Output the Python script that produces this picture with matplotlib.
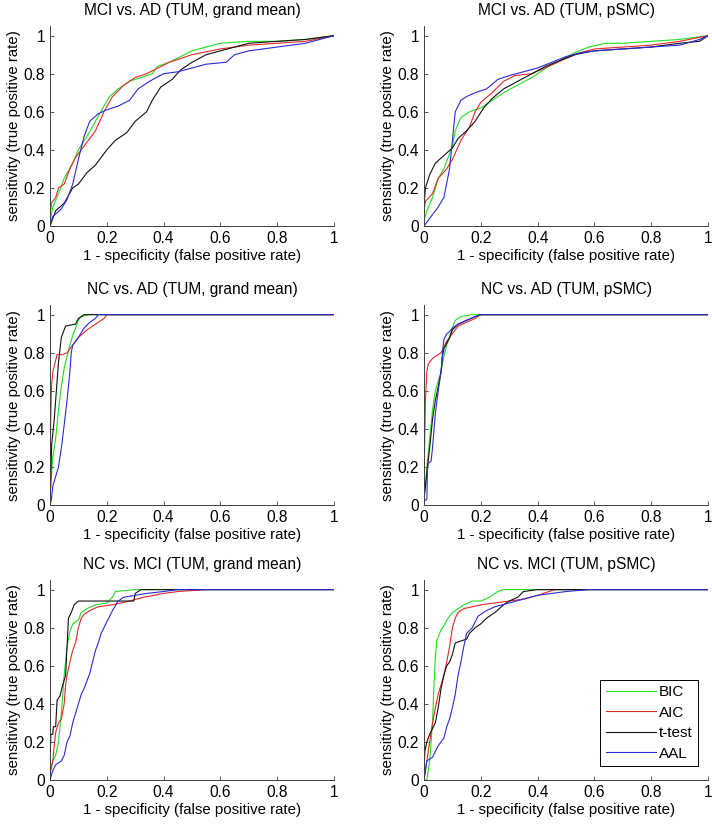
import matplotlib
matplotlib.use("Agg")
import matplotlib.pyplot as plt

plt.rcParams["font.family"] = ["Liberation Sans", "DejaVu Sans"]

# =========================
# DATA
# =========================

methods = ["BIC", "AIC", "t-test", "AAL"]
colors = ["#22dd22", "#e8262a", "#111111", "#2a2ad8"]

titles = [
    "MCI vs. AD (TUM, grand mean)",
    "MCI vs. AD (TUM, pSMC)",
    "NC vs. AD (TUM, grand mean)",
    "NC vs. AD (TUM, pSMC)",
    "NC vs. MCI (TUM, grand mean)",
    "NC vs. MCI (TUM, pSMC)",
]

# panel 1 : MCI vs. AD, grand mean
p1_bic_fpr = [0, 0.01, 0.03, 0.05, 0.08, 0.10, 0.13, 0.16, 0.19, 0.21, 0.24, 0.28, 0.32, 0.36, 0.38, 0.42, 0.46, 0.50, 0.55, 0.60, 0.70, 0.80, 0.90, 1]
p1_bic_tpr = [0.02, 0.10, 0.17, 0.25, 0.33, 0.40, 0.47, 0.55, 0.63, 0.68, 0.72, 0.76, 0.78, 0.80, 0.84, 0.86, 0.89, 0.92, 0.94, 0.96, 0.97, 0.97, 0.98, 1]
p1_aic_fpr = [0, 0.005, 0.02, 0.03, 0.05, 0.07, 0.09, 0.12, 0.16, 0.19, 0.22, 0.26, 0.30, 0.34, 0.38, 0.42, 0.50, 0.60, 0.70, 0.80, 0.90, 1]
p1_aic_tpr = [0.05, 0.12, 0.15, 0.20, 0.22, 0.30, 0.36, 0.42, 0.50, 0.60, 0.68, 0.74, 0.78, 0.80, 0.83, 0.86, 0.90, 0.93, 0.95, 0.96, 0.97, 1]
p1_tt_fpr = [0, 0.02, 0.05, 0.08, 0.10, 0.13, 0.16, 0.18, 0.20, 0.23, 0.27, 0.30, 0.34, 0.36, 0.39, 0.43, 0.46, 0.50, 0.55, 0.60, 0.70, 0.80, 0.90, 1]
p1_tt_tpr = [0, 0.08, 0.12, 0.20, 0.22, 0.28, 0.32, 0.36, 0.40, 0.45, 0.49, 0.55, 0.60, 0.66, 0.73, 0.77, 0.82, 0.86, 0.90, 0.92, 0.96, 0.97, 0.98, 1]
p1_aal_fpr = [0, 0.01, 0.04, 0.06, 0.08, 0.10, 0.12, 0.14, 0.17, 0.20, 0.24, 0.28, 0.31, 0.35, 0.40, 0.45, 0.50, 0.55, 0.62, 0.65, 0.70, 0.80, 0.90, 1]
p1_aal_tpr = [0, 0.05, 0.09, 0.14, 0.22, 0.35, 0.47, 0.55, 0.59, 0.61, 0.63, 0.66, 0.72, 0.76, 0.80, 0.81, 0.83, 0.85, 0.86, 0.90, 0.92, 0.94, 0.96, 1]

# panel 2 : MCI vs. AD, pSMC
p2_bic_fpr = [0, 0.01, 0.03, 0.05, 0.07, 0.10, 0.11, 0.13, 0.16, 0.20, 0.24, 0.28, 0.33, 0.38, 0.43, 0.48, 0.53, 0.58, 0.64, 0.70, 0.80, 0.90, 1]
p2_bic_tpr = [0.03, 0.08, 0.15, 0.25, 0.30, 0.42, 0.50, 0.57, 0.60, 0.62, 0.66, 0.70, 0.74, 0.78, 0.83, 0.87, 0.91, 0.94, 0.96, 0.96, 0.97, 0.98, 1]
p2_aic_fpr = [0, 0.005, 0.03, 0.05, 0.08, 0.10, 0.13, 0.16, 0.18, 0.20, 0.24, 0.28, 0.32, 0.38, 0.44, 0.50, 0.55, 0.60, 0.70, 0.80, 0.90, 1]
p2_aic_tpr = [0.08, 0.13, 0.17, 0.25, 0.30, 0.35, 0.45, 0.52, 0.60, 0.65, 0.70, 0.76, 0.79, 0.80, 0.84, 0.88, 0.91, 0.93, 0.94, 0.95, 0.97, 1]
p2_tt_fpr = [0, 0.005, 0.02, 0.04, 0.07, 0.10, 0.12, 0.15, 0.18, 0.21, 0.24, 0.28, 0.33, 0.38, 0.43, 0.48, 0.53, 0.60, 0.70, 0.80, 0.90, 0.97, 1]
p2_tt_tpr = [0.10, 0.20, 0.27, 0.33, 0.37, 0.41, 0.46, 0.50, 0.55, 0.62, 0.67, 0.72, 0.76, 0.80, 0.84, 0.87, 0.90, 0.92, 0.93, 0.94, 0.96, 0.97, 1]
p2_aal_fpr = [0, 0.01, 0.03, 0.05, 0.07, 0.09, 0.10, 0.11, 0.13, 0.15, 0.18, 0.22, 0.26, 0.30, 0.35, 0.40, 0.45, 0.50, 0.55, 0.60, 0.70, 0.80, 0.90, 0.97, 1]
p2_aal_tpr = [0, 0.02, 0.06, 0.10, 0.15, 0.30, 0.45, 0.60, 0.66, 0.68, 0.70, 0.72, 0.77, 0.79, 0.81, 0.83, 0.86, 0.89, 0.91, 0.92, 0.93, 0.94, 0.95, 0.98, 1]

# panel 3 : NC vs. AD, grand mean
p3_bic_fpr = [0, 0.005, 0.01, 0.02, 0.03, 0.04, 0.05, 0.06, 0.07, 0.08, 0.09, 0.10, 0.11, 0.14, 1]
p3_bic_tpr = [0, 0.15, 0.25, 0.35, 0.50, 0.62, 0.72, 0.78, 0.84, 0.89, 0.93, 0.97, 0.99, 1, 1]
p3_aic_fpr = [0, 0.002, 0.005, 0.01, 0.02, 0.025, 0.045, 0.06, 0.08, 0.10, 0.13, 0.16, 0.19, 0.20, 1]
p3_aic_tpr = [0, 0.40, 0.62, 0.70, 0.76, 0.79, 0.79, 0.80, 0.84, 0.88, 0.92, 0.95, 0.98, 1, 1]
p3_tt_fpr = [0, 0.003, 0.006, 0.015, 0.025, 0.03, 0.04, 0.05, 0.055, 0.09, 0.10, 0.12, 1]
p3_tt_tpr = [0, 0.15, 0.32, 0.45, 0.65, 0.75, 0.88, 0.92, 0.94, 0.95, 0.98, 1, 1]
p3_aal_fpr = [0, 0.005, 0.01, 0.02, 0.03, 0.04, 0.05, 0.06, 0.07, 0.075, 0.08, 0.09, 0.10, 0.12, 0.14, 0.16, 0.17, 1]
p3_aal_tpr = [0, 0.03, 0.10, 0.15, 0.20, 0.30, 0.42, 0.55, 0.70, 0.80, 0.84, 0.86, 0.88, 0.93, 0.96, 0.98, 1, 1]

# panel 4 : NC vs. AD, pSMC
p4_bic_fpr = [0, 0.005, 0.01, 0.02, 0.03, 0.04, 0.05, 0.06, 0.07, 0.08, 0.09, 0.10, 0.11, 0.13, 0.17, 1]
p4_bic_tpr = [0.05, 0.10, 0.20, 0.35, 0.50, 0.60, 0.65, 0.70, 0.78, 0.84, 0.88, 0.93, 0.97, 0.99, 1, 1]
p4_aic_fpr = [0, 0.002, 0.005, 0.01, 0.015, 0.03, 0.05, 0.06, 0.07, 0.08, 0.09, 0.10, 0.12, 0.15, 0.18, 0.20, 1]
p4_aic_tpr = [0.05, 0.30, 0.55, 0.70, 0.74, 0.77, 0.79, 0.80, 0.83, 0.86, 0.88, 0.90, 0.94, 0.96, 0.98, 1, 1]
p4_tt_fpr = [0, 0.005, 0.01, 0.02, 0.03, 0.04, 0.05, 0.06, 0.065, 0.07, 0.08, 0.09, 0.10, 0.12, 0.15, 0.18, 0.20, 1]
p4_tt_tpr = [0.03, 0.10, 0.17, 0.30, 0.45, 0.55, 0.62, 0.70, 0.78, 0.82, 0.85, 0.88, 0.92, 0.95, 0.97, 0.99, 1, 1]
p4_aal_fpr = [0, 0.01, 0.012, 0.015, 0.025, 0.03, 0.04, 0.05, 0.06, 0.065, 0.07, 0.08, 0.09, 0.10, 0.12, 0.15, 0.18, 0.20, 1]
p4_aal_tpr = [0.02, 0.03, 0.18, 0.22, 0.23, 0.30, 0.48, 0.60, 0.70, 0.80, 0.87, 0.90, 0.91, 0.93, 0.95, 0.97, 0.99, 1, 1]

# panel 5 : NC vs. MCI, grand mean
p5_bic_fpr = [0, 0.01, 0.02, 0.03, 0.04, 0.05, 0.06, 0.07, 0.08, 0.10, 0.11, 0.13, 0.16, 0.20, 0.22, 0.23, 0.30, 1]
p5_bic_tpr = [0.05, 0.10, 0.13, 0.20, 0.35, 0.55, 0.70, 0.78, 0.82, 0.84, 0.88, 0.90, 0.92, 0.93, 0.96, 0.99, 1, 1]
p5_aic_fpr = [0, 0.01, 0.015, 0.02, 0.03, 0.04, 0.05, 0.055, 0.06, 0.07, 0.08, 0.09, 0.10, 0.11, 0.12, 0.14, 0.17, 0.22, 0.28, 0.33, 0.40, 0.45, 0.55, 1]
p5_aic_tpr = [0.03, 0.10, 0.18, 0.25, 0.30, 0.32, 0.40, 0.50, 0.55, 0.62, 0.68, 0.72, 0.80, 0.85, 0.87, 0.89, 0.91, 0.92, 0.94, 0.96, 0.98, 0.99, 1, 1]
p5_tt_fpr = [0, 0.003, 0.01, 0.012, 0.02, 0.025, 0.035, 0.045, 0.055, 0.06, 0.065, 0.075, 0.085, 0.10, 0.295, 0.30, 0.32, 1]
p5_tt_tpr = [0.05, 0.24, 0.24, 0.28, 0.28, 0.42, 0.44, 0.50, 0.55, 0.70, 0.85, 0.88, 0.92, 0.94, 0.94, 0.98, 1, 1]
p5_aal_fpr = [0, 0.01, 0.02, 0.04, 0.05, 0.06, 0.07, 0.08, 0.09, 0.10, 0.11, 0.12, 0.13, 0.14, 0.15, 0.16, 0.17, 0.18, 0.20, 0.22, 0.24, 0.26, 0.30, 0.34, 0.40, 0.45, 1]
p5_aal_tpr = [0, 0.05, 0.08, 0.10, 0.13, 0.20, 0.23, 0.30, 0.35, 0.40, 0.45, 0.48, 0.52, 0.56, 0.62, 0.68, 0.72, 0.77, 0.83, 0.89, 0.94, 0.96, 0.97, 0.98, 0.99, 1, 1]

# panel 6 : NC vs. MCI, pSMC
p6_bic_fpr = [0, 0.01, 0.015, 0.02, 0.025, 0.03, 0.035, 0.04, 0.045, 0.05, 0.06, 0.07, 0.08, 0.09, 0.10, 0.12, 0.14, 0.17, 0.20, 0.23, 0.26, 0.28, 1]
p6_bic_tpr = [0, 0, 0.05, 0.10, 0.20, 0.30, 0.50, 0.65, 0.73, 0.75, 0.79, 0.81, 0.84, 0.86, 0.88, 0.90, 0.92, 0.94, 0.94, 0.96, 0.99, 1, 1]
p6_aic_fpr = [0, 0.01, 0.02, 0.03, 0.04, 0.05, 0.06, 0.07, 0.08, 0.09, 0.10, 0.11, 0.12, 0.14, 0.17, 0.20, 0.25, 0.30, 0.35, 0.40, 0.46, 1]
p6_aic_tpr = [0, 0.10, 0.20, 0.30, 0.38, 0.45, 0.50, 0.55, 0.62, 0.70, 0.80, 0.85, 0.88, 0.90, 0.91, 0.92, 0.93, 0.94, 0.95, 0.97, 1, 1]
p6_tt_fpr = [0, 0.003, 0.01, 0.02, 0.03, 0.04, 0.05, 0.06, 0.07, 0.08, 0.09, 0.10, 0.11, 0.13, 0.15, 0.16, 0.18, 0.20, 0.22, 0.25, 0.28, 0.30, 0.33, 0.35, 0.40, 1]
p6_tt_tpr = [0.05, 0.15, 0.20, 0.24, 0.27, 0.30, 0.38, 0.48, 0.55, 0.60, 0.62, 0.66, 0.72, 0.73, 0.74, 0.77, 0.80, 0.82, 0.85, 0.88, 0.92, 0.94, 0.96, 0.99, 1, 1]
p6_aal_fpr = [0, 0.005, 0.01, 0.03, 0.05, 0.07, 0.08, 0.09, 0.10, 0.11, 0.12, 0.13, 0.14, 0.15, 0.17, 0.19, 0.22, 0.25, 0.30, 0.35, 0.40, 0.50, 0.58, 1]
p6_aal_tpr = [0, 0.05, 0.10, 0.12, 0.18, 0.22, 0.28, 0.32, 0.38, 0.45, 0.55, 0.62, 0.70, 0.77, 0.80, 0.86, 0.89, 0.91, 0.93, 0.95, 0.97, 0.99, 1, 1]

panels = [
    [(p1_bic_fpr, p1_bic_tpr), (p1_aic_fpr, p1_aic_tpr), (p1_tt_fpr, p1_tt_tpr), (p1_aal_fpr, p1_aal_tpr)],
    [(p2_bic_fpr, p2_bic_tpr), (p2_aic_fpr, p2_aic_tpr), (p2_tt_fpr, p2_tt_tpr), (p2_aal_fpr, p2_aal_tpr)],
    [(p3_bic_fpr, p3_bic_tpr), (p3_aic_fpr, p3_aic_tpr), (p3_tt_fpr, p3_tt_tpr), (p3_aal_fpr, p3_aal_tpr)],
    [(p4_bic_fpr, p4_bic_tpr), (p4_aic_fpr, p4_aic_tpr), (p4_tt_fpr, p4_tt_tpr), (p4_aal_fpr, p4_aal_tpr)],
    [(p5_bic_fpr, p5_bic_tpr), (p5_aic_fpr, p5_aic_tpr), (p5_tt_fpr, p5_tt_tpr), (p5_aal_fpr, p5_aal_tpr)],
    [(p6_bic_fpr, p6_bic_tpr), (p6_aic_fpr, p6_aic_tpr), (p6_tt_fpr, p6_tt_tpr), (p6_aal_fpr, p6_aal_tpr)],
]

ticks = [0, 0.2, 0.4, 0.6, 0.8, 1]
tick_labels = ["0", "0.2", "0.4", "0.6", "0.8", "1"]

# =========================
# LAYOUT
# =========================

fig = plt.figure(figsize=(7.12, 8.26), dpi=100)

col_left = [0.0702, 0.5955]
row_bottom = [0.7264, 0.3886, 0.0557]
ax_w = 0.399
ax_h = 0.242

for i, curves in enumerate(panels):
    r, c = divmod(i, 2)
    ax = fig.add_axes([col_left[c], row_bottom[r], ax_w, ax_h])

    # plotted in legend order, AAL ends up on top
    for k in range(4):
        fpr, tpr = curves[k]
        ax.plot(fpr, tpr, color=colors[k], lw=0.8, label=methods[k])

    ax.set_xlim(0, 1)
    ax.set_ylim(0, 1.05)
    ax.set_xticks(ticks)
    ax.set_xticklabels(tick_labels)
    ax.set_yticks(ticks)
    ax.set_yticklabels(tick_labels)
    ax.tick_params(direction="in", length=3, width=0.6, labelsize=11.2,
                   colors="#404040", labelcolor="black", pad=3.5)
    for side in ["top", "right"]:
        ax.spines[side].set_visible(False)
    for side in ["left", "bottom"]:
        ax.spines[side].set_color("#404040")
        ax.spines[side].set_linewidth(0.7)

    ax.set_title(titles[i], fontsize=11.2, pad=8)
    ax.set_xlabel("1 - specificity (false positive rate)", fontsize=10.8, labelpad=2)
    ax.set_ylabel("sensitivity (true positive rate)", fontsize=10.8, labelpad=2)

    if i == 5:
        leg = ax.legend(loc="lower right",
                        bbox_to_anchor=(0.965, 0.07), borderaxespad=0,
                        fontsize=11, handlelength=3.3, handletextpad=0.2,
                        labelspacing=0.42, borderpad=0.35,
                        fancybox=False, framealpha=1)
        leg.get_frame().set_edgecolor("black")
        leg.get_frame().set_linewidth(0.7)

plt.savefig("out.png", dpi=100)
